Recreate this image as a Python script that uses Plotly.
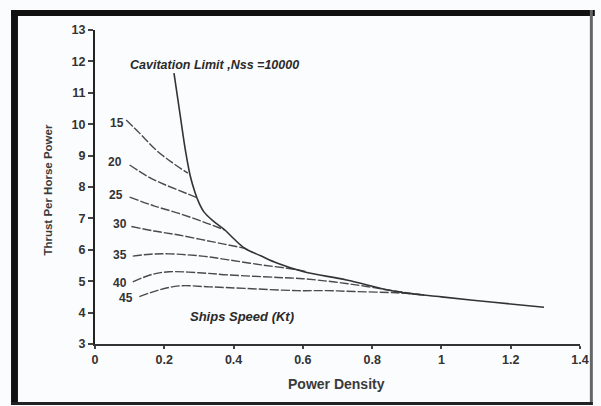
import plotly.graph_objects as go

# Cavitation limit curve (Nss = 10000)
cav_x = [0.228, 0.245, 0.262, 0.275, 0.288, 0.30, 0.315, 0.34, 0.375, 0.40, 0.432,
         0.48, 0.527, 0.603, 0.726, 0.869, 1.0, 1.15, 1.296]
cav_y = [11.63, 10.35, 9.10, 8.35, 7.85, 7.50, 7.20, 6.93, 6.63, 6.36, 6.05,
         5.80, 5.57, 5.30, 5.04, 4.67, 4.50, 4.33, 4.17]

# Constant ship-speed curves (knots)
speeds = ["15", "20", "25", "30", "35", "40", "45"]
speed_x = [
    [0.09, 0.13, 0.174, 0.22, 0.268],
    [0.10, 0.15, 0.19, 0.24, 0.295],
    [0.10, 0.17, 0.242, 0.31, 0.375],
    [0.105, 0.17, 0.242, 0.337, 0.432],
    [0.109, 0.16, 0.214, 0.309, 0.385, 0.48, 0.575, 0.61],
    [0.109, 0.166, 0.214, 0.30, 0.385, 0.527, 0.60, 0.73, 0.87, 0.95],
    [0.128, 0.185, 0.242, 0.33, 0.432, 0.584, 0.67, 0.75, 0.87, 0.95],
]
speed_y = [
    [10.13, 9.70, 9.20, 8.80, 8.44],
    [8.70, 8.35, 8.13, 7.90, 7.66],
    [7.68, 7.40, 7.16, 6.90, 6.63],
    [6.74, 6.60, 6.47, 6.26, 6.05],
    [5.80, 5.86, 5.87, 5.80, 5.68, 5.52, 5.38, 5.30],
    [4.98, 5.22, 5.30, 5.27, 5.20, 5.12, 5.08, 4.92, 4.68, 4.56],
    [4.51, 4.72, 4.85, 4.82, 4.77, 4.70, 4.70, 4.67, 4.63, 4.56],
]
label_x = [0.063, 0.058, 0.062, 0.071, 0.071, 0.071, 0.09]
label_y = [10.04, 8.81, 7.75, 6.81, 5.83, 4.93, 4.46]

x_ticks = [0, 0.2, 0.4, 0.6, 0.8, 1, 1.2, 1.4]
x_tick_text = ["0", "0.2", "0.4", "0.6", "0.8", "1", "1.2", "1.4"]
y_ticks = list(range(3, 14))

W, H = 601, 406
L, R, T, B = 95, 15, 30, 62
pw, ph = W - L - R, H - T - B


def px(x):
    return (x - L) / pw


def py(y):
    return (H - B - y) / ph


fig = go.Figure()

for xs, ys in zip(speed_x, speed_y):
    fig.add_trace(go.Scatter(x=xs, y=ys, mode="lines", line_shape="spline",
                             line=dict(color="#4a4a4a", width=1.4, dash="9px,2px"),
                             hoverinfo="skip", showlegend=False))

fig.add_trace(go.Scatter(x=cav_x, y=cav_y, mode="lines", line_shape="spline",
                         line=dict(color="#333333", width=1.6),
                         hoverinfo="skip", showlegend=False))

lab_font = dict(family="Liberation Sans", size=12, color="#333333", weight="bold")
for s, lx, ly in zip(speeds, label_x, label_y):
    fig.add_annotation(x=lx, y=ly, text=s, showarrow=False, font=lab_font,
                       xanchor="center", yanchor="middle")

fig.add_annotation(x=0.345, y=11.89, text="<i>Cavitation Limit ,Nss =10000</i>",
                   showarrow=False, xanchor="center", yanchor="middle",
                   font=dict(family="Liberation Sans", size=12.5, color="#2a2a2a", weight="bold"))
fig.add_annotation(x=0.425, y=3.89, text="<i>Ships Speed (Kt)</i>", showarrow=False,
                   xanchor="center", yanchor="middle",
                   font=dict(family="Liberation Sans", size=13, color="#2a2a2a", weight="bold"))

# Axis titles
fig.add_annotation(xref="paper", yref="paper", x=px(339), y=py(384), text="Power Density",
                   showarrow=False, xanchor="center", yanchor="middle",
                   font=dict(family="Liberation Sans", size=14, color="#3a3a3a", weight="bold"))
fig.add_annotation(xref="paper", yref="paper", x=px(47), y=py(190), text="Thrust Per Horse Power",
                   textangle=-90, showarrow=False, xanchor="center", yanchor="middle",
                   font=dict(family="Liberation Sans Narrow, Liberation Sans", size=11.5,
                             color="#3a3a3a", weight="bold"))

# Outer frame
frame = [
    (10, 10, 17, 405),   # left
    (10, 10, 601, 16),   # top
    (596, 10, 599, 405), # right
    (10, 402, 599, 405), # bottom
]
colors = ["#111111", "#111111", "#666666", "#222222"]
for (x0, y0, x1, y1), c in zip(frame, colors):
    fig.add_shape(type="rect", xref="paper", yref="paper",
                  x0=px(x0), x1=px(x1), y0=py(y1), y1=py(y0),
                  fillcolor=c, line=dict(width=0), layer="above")

tick_font = dict(family="Liberation Sans", size=12.5, color="#333333", weight="bold")
fig.update_layout(
    width=W, height=H,
    margin=dict(l=L, r=R, t=T, b=B),
    paper_bgcolor="#fbfcfd", plot_bgcolor="#fbfcfd",
    xaxis=dict(range=[0, 1.4], tickvals=x_ticks, ticktext=x_tick_text, showgrid=False,
               zeroline=False, showline=True, linecolor="#333333", linewidth=1.5,
               ticks="outside", ticklen=3, tickwidth=2, tickcolor="#444444",
               tickfont=tick_font),
    yaxis=dict(range=[3, 13], tickvals=y_ticks, showgrid=False, zeroline=False,
               showline=True, linecolor="#222222", linewidth=2,
               ticks="outside", ticklen=5, tickwidth=1.5, tickcolor="#444444",
               tickfont=tick_font),
)

fig.write_html("out.html")
